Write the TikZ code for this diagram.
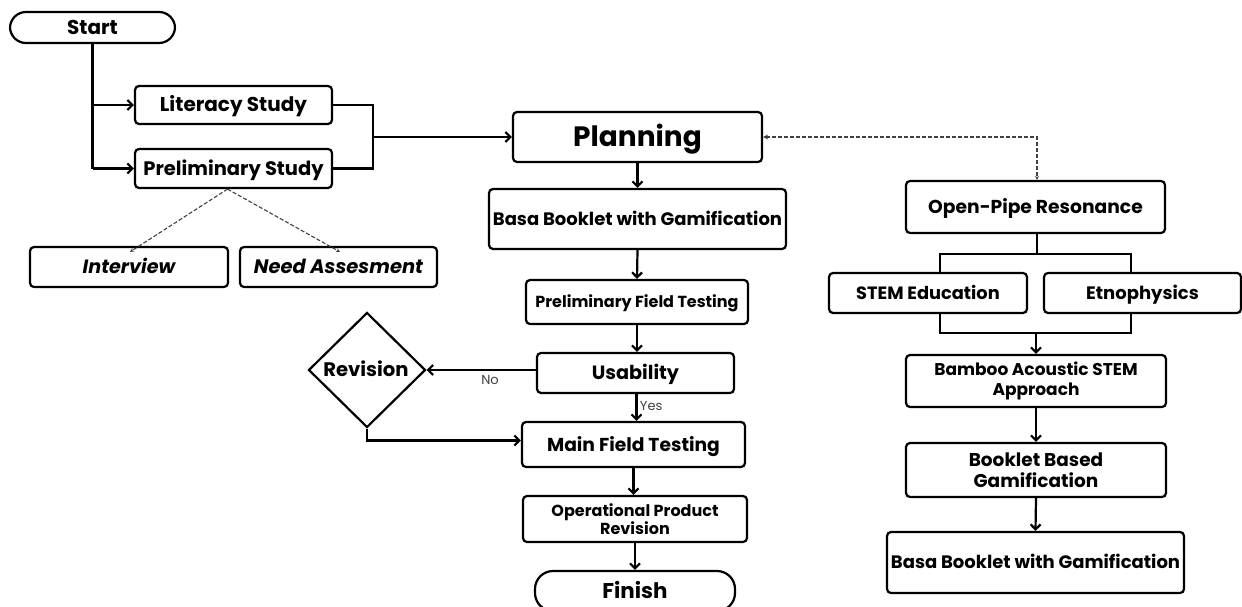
\documentclass[tikz,border=0pt]{standalone}
\usepackage{fontspec}
\setmainfont{Poppins}
\usetikzlibrary{arrows.meta,shapes.geometric}
\begin{document}
\begin{tikzpicture}[x=1pt,y=-1pt,
  box/.style={draw, line width=2.2pt, rounded corners=4pt, align=center, inner sep=0pt, font=\bfseries},
  one/.style={text depth=0pt, text height=#1},
  pill/.style={box, rounded corners=16pt},
  link/.style={line width=2.2pt, -{Straight Barb[length=5pt,width=10pt]}},
  plain/.style={line width=2.2pt},
  dlink/.style={line width=1.1pt, dash pattern=on 4pt off 2pt, black!75, -{Stealth[length=4pt,width=4pt]}},
  lbl/.style={font=\fontsize{13}{15}\selectfont, text=black!75}
]
\useasboundingbox (0,0) rectangle (1242,607);
\fill[white] (0,0) rectangle (1242,607);
\begin{scope}
\clip (0,0) rectangle (1242,607);
% left column
\node[pill, one=14pt, minimum width=165pt, minimum height=31pt, font=\bfseries\fontsize{20}{22}\selectfont] (start) at (92.5,27.5) {Start};
\node[box, one=14pt, minimum width=197pt, minimum height=38pt, font=\bfseries\fontsize{20}{22}\selectfont] (lit) at (233.5,105) {Literacy Study};
\node[box, one=13.6pt, minimum width=197pt, minimum height=39pt, font=\bfseries\fontsize{19.5}{22}\selectfont] (pre) at (233.5,168.5) {Preliminary Study};
\node[box, one=13.4pt, minimum width=198pt, minimum height=40pt, font=\bfseries\itshape\fontsize{19.2}{22}\selectfont] (int) at (129,267) {Interview};
\node[box, one=13.6pt, minimum width=197pt, minimum height=40pt, font=\bfseries\itshape\fontsize{19.5}{22}\selectfont] (need) at (338.5,267) {Need Assesment};
% middle column
\node[box, one=19.6pt, minimum width=249pt, minimum height=50pt, font=\bfseries\fontsize{28}{30}\selectfont] (plan) at (637.5,137) {Planning};
\node[box, one=12.6pt, minimum width=297pt, minimum height=60pt, font=\bfseries\fontsize{18}{20}\selectfont] (basa) at (637.5,219) {Basa Booklet with Gamification};
\node[box, one=11.2pt, minimum width=222pt, minimum height=44pt, font=\bfseries\fontsize{16}{18}\selectfont] (pft) at (637,302) {Preliminary Field Testing};
\node[box, one=13.4pt, minimum width=197pt, minimum height=40pt, font=\bfseries\fontsize{19.2}{22}\selectfont] (use) at (635.5,373) {Usability};
\node[draw, diamond, line width=2.2pt, inner sep=0pt, minimum width=117pt, minimum height=115pt] (rev) at (367,370) {};
\node[one=13.7pt, inner sep=0pt, font=\bfseries\fontsize{19.6}{22}\selectfont] at (366,370) {Revision};
\node[box, one=13.1pt, minimum width=223pt, minimum height=45pt, font=\bfseries\fontsize{18.7}{21}\selectfont] (main) at (633.5,444.5) {Main Field Testing};
\node[box, minimum width=224pt, minimum height=46pt, font=\bfseries\fontsize{16}{18.5}\selectfont] (opr) at (635,519) {Operational Product\\Revision};
\node[pill, one=15pt, minimum width=200pt, minimum height=40pt, rounded corners=18pt, font=\bfseries\fontsize{21.4}{24}\selectfont] (fin) at (635,591) {Finish};
% right column
\node[box, one=13.1pt, minimum width=259pt, minimum height=52pt, font=\bfseries\fontsize{18.7}{21}\selectfont] (op) at (1035.5,207) {Open-Pipe Resonance};
\node[box, one=12.5pt, minimum width=198pt, minimum height=40pt, font=\bfseries\fontsize{17.8}{20}\selectfont] (stem) at (928,293) {STEM Education};
\node[box, one=12.6pt, minimum width=197pt, minimum height=40pt, font=\bfseries\fontsize{18}{20}\selectfont] (etno) at (1142.5,293) {Etnophysics};
\node[box, minimum width=260pt, minimum height=52pt, font=\bfseries\fontsize{17}{20}\selectfont] (bam) at (1036,381) {Bamboo Acoustic STEM\\Approach};
\node[box, minimum width=260pt, minimum height=54pt, font=\bfseries\fontsize{18.5}{21.5}\selectfont] (bbg) at (1036,470) {Booklet Based\\Gamification};
\node[box, one=12.6pt, minimum width=297pt, minimum height=61pt, font=\bfseries\fontsize{18}{20}\selectfont] (basa2) at (1035.5,562.5) {Basa Booklet with Gamification};

% connectors left
\draw[plain] (start.south) -- (start.south |- pre.west);
\draw[link] (start.south |- lit.west) -- (lit.west);
\draw[link] (start.south |- pre.west) -- (pre.west);
\draw[plain] (lit.east) -- ++(40,0) coordinate (lr) |- (pre.east);
\coordinate (jn) at (lr |- plan.west);
\draw[link] (jn) -- (plan.west);
\coordinate (pa) at ([xshift=-6pt]pre.south);
\draw[dlink] (pa) -- ([xshift=1pt,yshift=-6pt]int.north);
\draw[dlink] (pa) -- ([xshift=1.5pt,yshift=-6pt]need.north);
% middle
\draw[link] (plan.south) -- (basa.north);
\draw[link] (basa.south) -- (pft.north);
\draw[link] (pft.south) -- (pft.south |- use.north);
\draw[link] (use.west |- rev.east) -- node[lbl, below, pos=0.42, yshift=-1pt] {No} (rev.east);
\draw[link] ([xshift=1pt]use.south) -- node[lbl, right, pos=0.45, xshift=-1pt] {Yes} ([xshift=1pt]use.south |- main.north);
\draw[link] (rev.south) |- ([yshift=4pt]main.west);
\draw[link] (main.south) -- (main.south |- opr.north);
\draw[link] (opr.south) -- (opr.south |- fin.north);
% dashed planning <-> open pipe
\draw[dlink, {Stealth[length=5pt,width=5pt]}-{Stealth[length=4pt,width=4pt]}] (plan.east) -| ([xshift=1.5pt]op.north);
% right
\draw[plain] ([xshift=1.5pt]op.south) -- ++(0,20) coordinate (ob);
\coordinate (sl) at ([xshift=12pt]stem.north);
\coordinate (er) at ([xshift=-11.5pt]etno.north);
\draw[plain] (sl) |- (ob) -| (er);
\coordinate (sb) at ([xshift=12pt]stem.south);
\coordinate (eb) at ([xshift=-11.5pt]etno.south);
\draw[plain] (sb) -- ++(0,19) coordinate (sbb) -| (eb);
\draw[link] (sbb -| bam.north) -- (bam.north);
\draw[link] (bam.south) -- (bbg.north);
\draw[link] (bbg.south) -- (basa2.north);
\end{scope}
\end{tikzpicture}
\end{document}
